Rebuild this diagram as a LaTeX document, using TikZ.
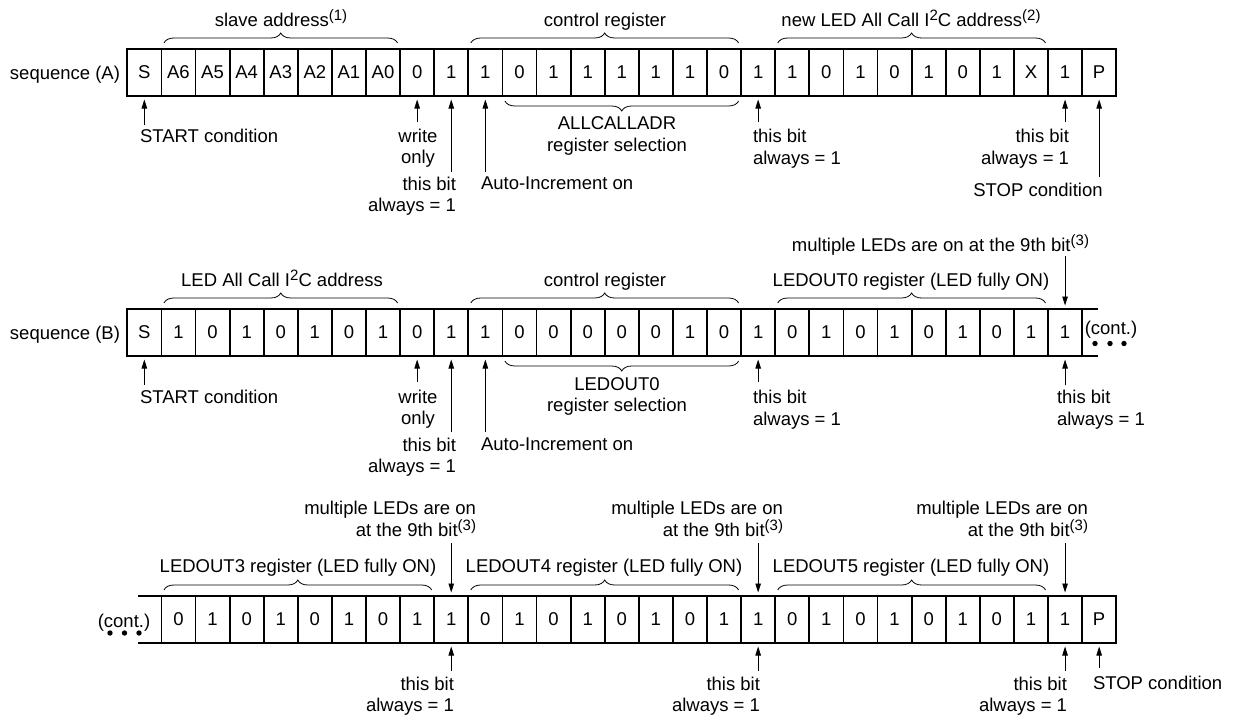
\documentclass[tikz,border=0pt]{standalone}
\usepackage{fontspec}
\setmainfont{Liberation Sans}
\usetikzlibrary{arrows.meta,decorations.pathreplacing,calc}
\newcommand\sups[1]{\raisebox{6pt}{\fontsize{15}{15}\selectfont #1}}
\begin{document}
\begin{tikzpicture}[x=1pt,y=-1pt,font=\fontsize{18.5}{21.5}\selectfont,
 cell/.style={draw, line width=1.8pt, minimum width=34.1pt, minimum height=47pt, inner sep=0pt, outer sep=0pt},
 lbl/.style={inner sep=0pt, outer sep=0pt},
 arr/.style={line width=0.8pt, -{Triangle[length=9pt,width=5.5pt]}, shorten >=3.5pt},
 brc/.style={decorate, decoration={brace, amplitude=10pt}, line width=0.8pt},
 thick line/.style={line width=1.8pt},
 dot/.style={fill=black}]
\useasboundingbox (0,0) rectangle (1234,717);

% ---------- sequence (A) ----------
\foreach \t [count=\i from 0] in {S,A6,A5,A4,A3,A2,A1,A0,0,1,1,0,1,1,1,1,1,0,1,1,0,1,0,1,0,1,X,1,P}
  \node[cell] (A\i) at ({127.3+(\i+0.5)*34.1},72.5) {\t};
\node[lbl, anchor=base east] (seqA) at (120,79.5) {sequence (A)};
\node[lbl, anchor=base] (slave) at (281,26.6) {slave address\sups{(1)}};
\node[lbl, anchor=base] (ctrlA) at (605,26.6) {control register};
\node[lbl, anchor=base] (newLED) at (911,26.6) {new LED All Call I\sups{2}C address\sups{(2)}};
\draw[brc] ([xshift=2.5pt,yshift=6pt]A1.north west) -- ([xshift=-2.5pt,yshift=6pt]A7.north east);
\draw[brc] ([xshift=2.5pt,yshift=6pt]A10.north west) -- ([xshift=-2.5pt,yshift=6pt]A17.north east);
\draw[brc] ([xshift=2.5pt,yshift=6pt]A19.north west) -- ([xshift=-2.5pt,yshift=6pt]A26.north east);
\draw[brc] ([xshift=-2.5pt,yshift=-5pt]A17.south east) -- ([xshift=2.5pt,yshift=-5pt]A11.south west);
\node[lbl, align=center] (allcall) at (617,136) {ALLCALLADR\\register selection};
\node[lbl, anchor=base west] (startA) at (140,142.6) {START condition};
\node[lbl, align=center] (wrA) at (418,148) {write\\only};
\node[lbl, align=right, anchor=east] (ackA9) at (456,196) {this bit\\always = 1};
\node[lbl, anchor=base west] (aiA) at (481,189.6) {Auto-Increment on};
\node[lbl, align=left, anchor=west] (ackA18) at (753,148.5) {this bit\\always = 1};
\node[lbl, align=right, anchor=east] (ackA27) at (1069,148.5) {this bit\\always = 1};
\node[lbl, anchor=base] (stopA) at (1038,196.6) {STOP condition};
\draw[arr] ([yshift=-29pt]A0.south) -- (A0.south);
\draw[arr] ([yshift=-26pt]A8.south) -- (A8.south);
\draw[arr] ([yshift=-76pt]A9.south) -- (A9.south);
\draw[arr] ([yshift=-76pt]A10.south) -- (A10.south);
\draw[arr] ([yshift=-26pt]A18.south) -- (A18.south);
\draw[arr] ([yshift=-26pt]A27.south) -- (A27.south);
\draw[arr] ([yshift=-81pt]A28.south) -- (A28.south);

% ---------- sequence (B) ----------
\foreach \t [count=\i from 0] in {S,1,0,1,0,1,0,1,0,1,1,0,0,0,0,0,1,0,1,0,1,0,1,0,1,0,1,1}
  \node[cell] (B\i) at ({127.3+(\i+0.5)*34.1},332.5) {\t};
\draw[thick line] (B27.north east) -- ([xshift=16pt]B27.north east);
\draw[thick line] (B27.south east) -- ([xshift=16pt]B27.south east);
\node[lbl, anchor=base] (contB) at (1111,334.5) {(cont.)};
\fill[dot] (1095,343.5) circle (2.7pt) (1110,343.5) circle (2.7pt) (1124,343.5) circle (2.7pt);
\node[lbl, anchor=base east] (seqB) at (120,339.5) {sequence (B)};
\node[lbl, anchor=base] (ledall) at (282,286.6) {LED All Call I\sups{2}C address};
\node[lbl, anchor=base] (ctrlB) at (605,286.6) {control register};
\node[lbl, anchor=base] (led0) at (911,286.6) {LEDOUT0 register (LED fully ON)};
\node[lbl, anchor=base east] (multB) at (1089,251.6) {multiple LEDs are on at the 9th bit\sups{(3)}};
\draw[brc] ([xshift=2.5pt,yshift=6pt]B1.north west) -- ([xshift=-2.5pt,yshift=6pt]B7.north east);
\draw[brc] ([xshift=2.5pt,yshift=6pt]B10.north west) -- ([xshift=-2.5pt,yshift=6pt]B17.north east);
\draw[brc] ([xshift=2.5pt,yshift=6pt]B19.north west) -- ([xshift=-2.5pt,yshift=6pt]B26.north east);
\draw[brc] ([xshift=-2.5pt,yshift=-5pt]B17.south east) -- ([xshift=2.5pt,yshift=-5pt]B11.south west);
\draw[arr] ([yshift=53pt]B27.north) -- (B27.north);
\node[lbl, align=center] (led0sel) at (617,396.5) {LEDOUT0\\register selection};
\node[lbl, anchor=base west] (startB) at (140,403.6) {START condition};
\node[lbl, align=center] (wrB) at (418,409) {write\\only};
\node[lbl, align=right, anchor=east] (ackB9) at (456,457) {this bit\\always = 1};
\node[lbl, anchor=base west] (aiB) at (481,450.6) {Auto-Increment on};
\node[lbl, align=left, anchor=west] (ackB18) at (753,409.5) {this bit\\always = 1};
\node[lbl, align=left, anchor=west] (ackB27) at (1057,409.5) {this bit\\always = 1};
\draw[arr] ([yshift=-29pt]B0.south) -- (B0.south);
\draw[arr] ([yshift=-26pt]B8.south) -- (B8.south);
\draw[arr] ([yshift=-76pt]B9.south) -- (B9.south);
\draw[arr] ([yshift=-76pt]B10.south) -- (B10.south);
\draw[arr] ([yshift=-26pt]B18.south) -- (B18.south);
\draw[arr] ([yshift=-29pt]B27.south) -- (B27.south);

% ---------- continuation ----------
\foreach \t [count=\i from 0] in {0,1,0,1,0,1,0,1,1,0,1,0,1,0,1,0,1,1,0,1,0,1,0,1,0,1,1,P}
  \node[cell] (C\i) at ({161.4+(\i+0.5)*34.1},619.5) {\t};
\draw[thick line] (C0.north west) -- ([xshift=-23pt]C0.north west);
\draw[thick line] (C0.south west) -- ([xshift=-23pt]C0.south west);
\node[lbl, anchor=base] (contC) at (124,627.5) {(cont.)};
\fill[dot] (110,633) circle (2.7pt) (124.5,633) circle (2.7pt) (139,633) circle (2.7pt);
\node[lbl, anchor=base] (led3) at (298,572.6) {LEDOUT3 register (LED fully ON)};
\node[lbl, anchor=base] (led4) at (604,572.6) {LEDOUT4 register (LED fully ON)};
\node[lbl, anchor=base] (led5) at (911,572.6) {LEDOUT5 register (LED fully ON)};
\draw[brc] ([xshift=2.5pt,yshift=6pt]C0.north west) -- ([xshift=-2.5pt,yshift=6pt]C7.north east);
\draw[brc] ([xshift=2.5pt,yshift=6pt]C9.north west) -- ([xshift=-2.5pt,yshift=6pt]C16.north east);
\draw[brc] ([xshift=2.5pt,yshift=6pt]C18.north west) -- ([xshift=-2.5pt,yshift=6pt]C25.north east);
\node[lbl, align=right, anchor=east] (mC8) at (476,519) {multiple LEDs are on\\at the 9th bit\sups{(3)}};
\node[lbl, align=right, anchor=east] (mC17) at (783,519) {multiple LEDs are on\\at the 9th bit\sups{(3)}};
\node[lbl, align=right, anchor=east] (mC26) at (1088,519) {multiple LEDs are on\\at the 9th bit\sups{(3)}};
\draw[arr] ([yshift=53pt]C8.north) -- (C8.north);
\draw[arr] ([yshift=53pt]C17.north) -- (C17.north);
\draw[arr] ([yshift=53pt]C26.north) -- (C26.north);
\node[lbl, align=right, anchor=east] (aC8) at (454,696) {this bit\\always = 1};
\node[lbl, align=right, anchor=east] (aC17) at (760,696) {this bit\\always = 1};
\node[lbl, align=right, anchor=east] (aC26) at (1067,696) {this bit\\always = 1};
\node[lbl, anchor=base west] (stopC) at (1093,689.6) {STOP condition};
\draw[arr] ([yshift=-28pt]C8.south) -- (C8.south);
\draw[arr] ([yshift=-28pt]C17.south) -- (C17.south);
\draw[arr] ([yshift=-28pt]C26.south) -- (C26.south);
\draw[arr] ([yshift=-25pt]C27.south) -- (C27.south);
\end{tikzpicture}
\end{document}
